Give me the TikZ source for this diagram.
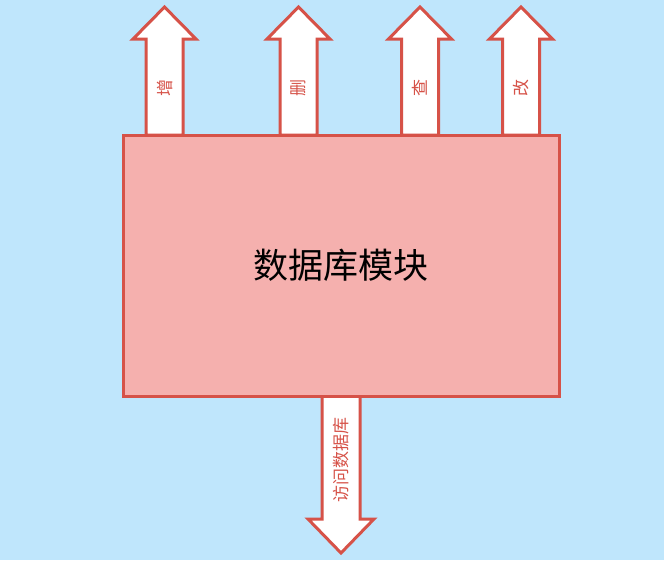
\documentclass[tikz,border=0pt]{standalone}
\usepackage{fontspec}
\setmainfont{Noto Sans CJK SC}
\definecolor{bgblue}{RGB}{191,230,252}
\definecolor{dbred}{RGB}{214,82,72}
\definecolor{dbpink}{RGB}{245,176,174}
\tikzset{
  opArrow/.style={draw=dbred, fill=white, line width=3pt, line join=miter},
  opLabel/.style={text=dbred, font=\fontsize{17}{17}\selectfont, rotate=90, inner sep=0pt},
  dbBox/.style={draw=dbred, fill=dbpink, line width=3pt, minimum width=436pt, minimum height=261pt,
    font=\fontsize{35}{35}\selectfont}
}
\begin{document}
\begin{tikzpicture}[x=1pt,y=-1pt]
  \fill[bgblue] (0,0) rectangle (664,560);
  \useasboundingbox (0,0) rectangle (664,560);

  % up arrows
  \foreach \cx/\op [count=\i] in {164.5/增, 298.5/删, 420/查, 521/改} {
    \draw[opArrow] (\cx-18.5,135) -- ++(0,-96) -- ++(-13,0) -- (\cx,7) -- (\cx+31.5,39) -- ++(-13,0) -- ++(0,96) -- cycle;
    \node[opLabel] (op\i) at (\cx,88) {\op};
  }

  % down arrow
  \draw[opArrow] (322,396) -- ++(0,123) -- ++(-14,0) -- (341,553) -- (374,519) -- ++(-14,0) -- ++(0,-123) -- cycle;
  \node[opLabel] (access) at (341,460) {访问数据库};

  \node[dbBox] (db) at (341,265.5) {数据库模块};
\end{tikzpicture}
\end{document}
